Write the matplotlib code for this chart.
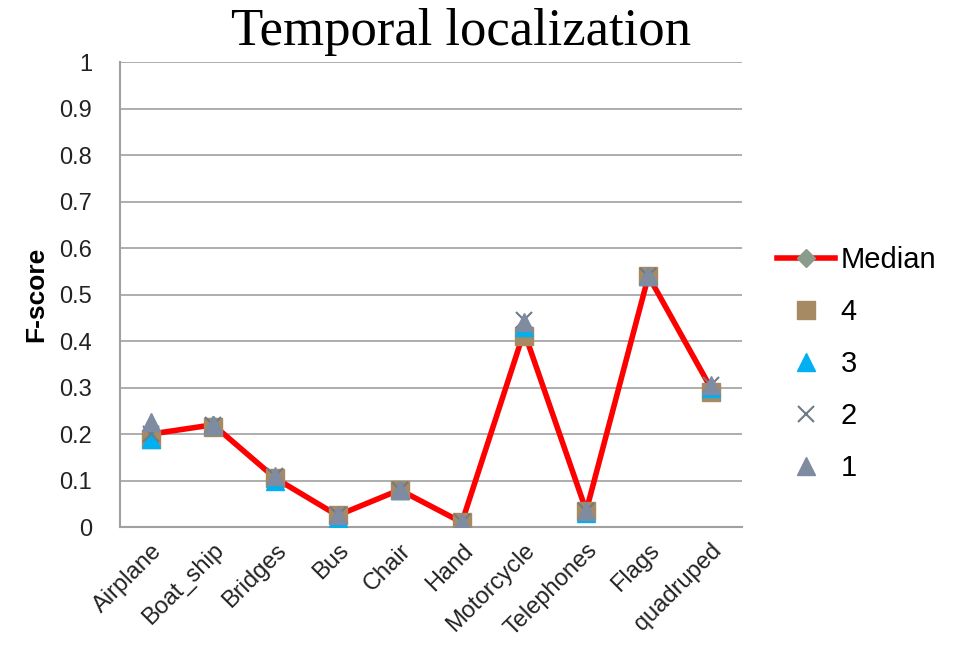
import matplotlib
matplotlib.use("Agg")
from matplotlib import pyplot as plt
import numpy as np

categories = ["Airplane", "Boat_ship", "Bridges", "Bus", "Chair", "Hand",
              "Motorcycle", "Telephones", "Flags", "quadruped"]
median = [0.20, 0.22, 0.105, 0.025, 0.08, 0.01, 0.42, 0.035, 0.54, 0.30]
s4 = [0.19, 0.215, 0.105, 0.025, 0.08, 0.01, 0.41, 0.035, 0.54, 0.29]
s3 = [0.19, 0.22, 0.10, 0.02, 0.08, 0.005, 0.43, 0.03, 0.54, 0.30]
s2 = [0.20, 0.22, 0.11, 0.025, 0.08, 0.01, 0.445, 0.035, 0.54, 0.305]
s1 = [0.225, 0.22, 0.11, 0.025, 0.08, 0.01, 0.44, 0.035, 0.54, 0.305]
yticks = [0, 0.1, 0.2, 0.3, 0.4, 0.5, 0.6, 0.7, 0.8, 0.9, 1]
ytick_labels = ["0", "0.1", "0.2", "0.3", "0.4", "0.5", "0.6", "0.7", "0.8", "0.9", "1"]

plt.rcParams['font.family'] = ['Liberation Sans', 'DejaVu Sans']

fig = plt.figure(figsize=(9.67, 6.68), dpi=100)
ax = fig.add_axes([0.124, 0.211, 0.643, 0.696])

x = np.arange(len(categories))
ax.plot(x, median, color="#ff0000", linewidth=4, marker="D", markersize=9,
        markerfacecolor="#8c9c8c", markeredgecolor="#8c9c8c", label="Median", zorder=3)
ax.plot(x, s4, linestyle="none", marker="s", markersize=13, color="#a68a64", label="4", zorder=4)
ax.plot(x, s3, linestyle="none", marker="^", markersize=13, color="#00b0f0", label="3", zorder=5)
ax.plot(x, s2, linestyle="none", marker="x", markersize=12, markeredgewidth=1.5,
        color="#6f7a88", label="2", zorder=6)
ax.plot(x, s1, linestyle="none", marker="^", markersize=13, color="#7f8ba0", label="1", zorder=7)

ax.set_xlim(-0.5, len(categories) - 0.5)
ax.set_ylim(0, 1)
ax.set_yticks(yticks)
ax.set_yticklabels(ytick_labels, fontsize=17)
ax.set_xticks(x)
ax.set_xticklabels(categories, fontsize=17, rotation=45, ha="right", rotation_mode="anchor")
ax.tick_params(axis="both", length=0, colors="#222222")
ax.tick_params(axis="x", pad=9)
ax.tick_params(axis="y", pad=20)

ax.grid(axis="y", color="#a0a0a0", linewidth=1.2)
ax.set_axisbelow(True)
for side in ["top", "right"]:
    ax.spines[side].set_visible(False)
for side in ["left", "bottom"]:
    ax.spines[side].set_color("#a0a0a0")
    ax.spines[side].set_linewidth(1.5)

ax.set_ylabel("F-score", fontsize=19, fontweight="bold", labelpad=8)
fig.text(0.477, 0.952, "Temporal localization", fontsize=38, family="Liberation Serif",
         ha="center", va="center")

leg = ax.legend(loc="center left", bbox_to_anchor=(1.014, 0.35), frameon=False,
                fontsize=21, labelspacing=0.82, handlelength=2.0, handletextpad=0.2)

fig.savefig("out.png", dpi=100)
